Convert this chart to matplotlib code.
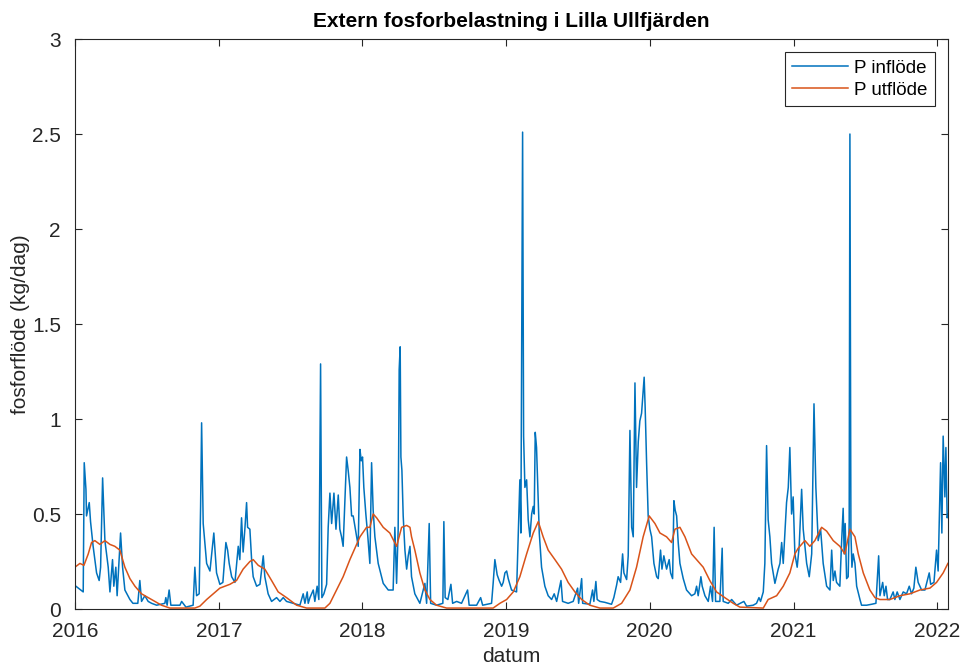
import numpy as np
import pandas as pd
import matplotlib
matplotlib.use("Agg")
import matplotlib.pyplot as plt
import matplotlib.dates as mdates

plt.rcParams['font.family'] = ['Liberation Sans', 'DejaVu Sans']

# tid i år räknat från 2016-01-01
ar_in = [0.007, 0.058, 0.065, 0.077, 0.081, 0.100, 0.109, 0.127, 0.151, 0.169, 0.179, 0.193, 0.209, 0.232, 0.244,
         0.262, 0.271, 0.285, 0.294, 0.308, 0.318, 0.332, 0.348, 0.383, 0.404, 0.438, 0.452, 0.464, 0.487, 0.510,
         0.534, 0.569, 0.626, 0.633, 0.642, 0.656, 0.668, 0.731, 0.743, 0.773, 0.823, 0.835, 0.847, 0.865, 0.875,
         0.882, 0.893, 0.917, 0.940, 0.967, 0.986, 1.009, 1.030, 1.051, 1.063, 1.074, 1.091, 1.114, 1.137, 1.148,
         1.160, 1.171, 1.183, 1.195, 1.202, 1.218, 1.230, 1.241, 1.265, 1.288, 1.311, 1.322, 1.345, 1.369, 1.404,
         1.427, 1.450, 1.473, 1.519, 1.566, 1.589, 1.601, 1.617, 1.624, 1.636, 1.659, 1.670, 1.686, 1.698, 1.710,
         1.719, 1.733, 1.752, 1.763, 1.775, 1.787, 1.803, 1.817, 1.833, 1.844, 1.856, 1.867, 1.891, 1.902, 1.914,
         1.926, 1.937, 1.961, 1.972, 1.984, 1.993, 2.002, 2.011, 2.025, 2.039, 2.053, 2.065, 2.076, 2.088, 2.111,
         2.146, 2.181, 2.215, 2.227, 2.239, 2.250, 2.257, 2.264, 2.269, 2.276, 2.285, 2.297, 2.309, 2.320, 2.332,
         2.343, 2.366, 2.401, 2.436, 2.448, 2.466, 2.476, 2.517, 2.561, 2.568, 2.577, 2.596, 2.617, 2.629, 2.657,
         2.691, 2.733, 2.744, 2.796, 2.824, 2.838, 2.900, 2.911, 2.923, 2.939, 2.953, 2.970, 2.981, 2.993, 3.005,
         3.016, 3.039, 3.074, 3.097, 3.104, 3.111, 3.116, 3.123, 3.132, 3.144, 3.155, 3.167, 3.179, 3.190, 3.197,
         3.204, 3.213, 3.222, 3.232, 3.248, 3.271, 3.294, 3.318, 3.336, 3.353, 3.383, 3.394, 3.433, 3.468, 3.499,
         3.506, 3.527, 3.534, 3.584, 3.603, 3.612, 3.626, 3.635, 3.654, 3.689, 3.735, 3.751, 3.770, 3.781, 3.798,
         3.812, 3.821, 3.840, 3.851, 3.863, 3.875, 3.886, 3.898, 3.909, 3.921, 3.932, 3.944, 3.955, 3.962, 3.969,
         3.979, 3.990, 4.002, 4.014, 4.030, 4.049, 4.060, 4.076, 4.086, 4.099, 4.118, 4.136, 4.146, 4.160, 4.169,
         4.178, 4.188, 4.199, 4.211, 4.234, 4.257, 4.292, 4.315, 4.327, 4.338, 4.357, 4.366, 4.385, 4.408, 4.424,
         4.438, 4.449, 4.459, 4.489, 4.505, 4.512, 4.547, 4.571, 4.605, 4.656, 4.675, 4.721, 4.744, 4.761, 4.772,
         4.791, 4.802, 4.814, 4.825, 4.837, 4.849, 4.872, 4.895, 4.907, 4.919, 4.930, 4.953, 4.965, 4.976, 4.988,
         4.999, 5.011, 5.027, 5.041, 5.058, 5.069, 5.093, 5.111, 5.128, 5.144, 5.157, 5.173, 5.190, 5.208, 5.232,
         5.255, 5.267, 5.278, 5.290, 5.301, 5.324, 5.336, 5.347, 5.354, 5.361, 5.371, 5.382, 5.389, 5.394, 5.401,
         5.408, 5.417, 5.429, 5.441, 5.464, 5.475, 5.510, 5.545, 5.575, 5.594, 5.603, 5.622, 5.633, 5.645, 5.656,
         5.672, 5.695, 5.707, 5.723, 5.742, 5.765, 5.788, 5.807, 5.823, 5.839, 5.853, 5.869, 5.893, 5.916, 5.946,
         5.956, 5.979, 5.997, 6.008, 6.025, 6.034, 6.043, 6.055, 6.062, 6.071, 6.076]
p_in = [0.12, 0.09, 0.77, 0.63, 0.49, 0.56, 0.46, 0.33, 0.19, 0.15, 0.22, 0.69, 0.36, 0.22, 0.09,
        0.26, 0.12, 0.22, 0.07, 0.26, 0.40, 0.22, 0.10, 0.05, 0.03, 0.03, 0.15, 0.04, 0.07, 0.04,
        0.03, 0.02, 0.03, 0.06, 0.02, 0.10, 0.02, 0.02, 0.04, 0.01, 0.02, 0.22, 0.07, 0.08, 0.54,
        0.98, 0.45, 0.24, 0.20, 0.40, 0.19, 0.13, 0.14, 0.35, 0.31, 0.24, 0.17, 0.14, 0.33, 0.26,
        0.48, 0.30, 0.42, 0.56, 0.43, 0.42, 0.26, 0.17, 0.12, 0.13, 0.28, 0.17, 0.08, 0.04, 0.06,
        0.04, 0.06, 0.04, 0.03, 0.02, 0.08, 0.03, 0.09, 0.03, 0.06, 0.10, 0.04, 0.12, 0.05, 1.29,
        0.06, 0.08, 0.13, 0.43, 0.61, 0.45, 0.61, 0.42, 0.60, 0.42, 0.38, 0.33, 0.80, 0.73, 0.64,
        0.49, 0.49, 0.38, 0.33, 0.84, 0.78, 0.80, 0.64, 0.50, 0.38, 0.24, 0.77, 0.52, 0.38, 0.24,
        0.135, 0.10, 0.10, 0.43, 0.135, 0.42, 1.26, 1.38, 0.80, 0.73, 0.49, 0.31, 0.21, 0.28, 0.33,
        0.17, 0.08, 0.03, 0.135, 0.03, 0.45, 0.03, 0.02, 0.03, 0.46, 0.06, 0.05, 0.13, 0.03, 0.04,
        0.03, 0.10, 0.02, 0.02, 0.06, 0.02, 0.03, 0.135, 0.26, 0.18, 0.15, 0.12, 0.14, 0.19, 0.20,
        0.16, 0.10, 0.09, 0.68, 0.40, 1.70, 2.51, 0.91, 0.64, 0.68, 0.47, 0.38, 0.50, 0.54, 0.50,
        0.93, 0.85, 0.64, 0.40, 0.22, 0.12, 0.07, 0.05, 0.08, 0.04, 0.15, 0.04, 0.03, 0.04, 0.11,
        0.03, 0.16, 0.03, 0.025, 0.10, 0.04, 0.145, 0.05, 0.04, 0.035, 0.025, 0.06, 0.125, 0.17, 0.14,
        0.29, 0.19, 0.155, 0.28, 0.94, 0.43, 0.38, 1.19, 0.64, 0.88, 0.99, 1.03, 1.15, 1.22, 1.06,
        0.77, 0.49, 0.42, 0.38, 0.24, 0.17, 0.16, 0.31, 0.21, 0.28, 0.21, 0.26, 0.19, 0.16, 0.57,
        0.52, 0.49, 0.35, 0.24, 0.16, 0.10, 0.07, 0.08, 0.12, 0.07, 0.17, 0.12, 0.07, 0.04, 0.12,
        0.04, 0.43, 0.04, 0.04, 0.32, 0.04, 0.03, 0.05, 0.02, 0.04, 0.015, 0.02, 0.03, 0.06, 0.04,
        0.09, 0.24, 0.86, 0.47, 0.38, 0.24, 0.135, 0.21, 0.24, 0.35, 0.24, 0.56, 0.64, 0.85, 0.50,
        0.59, 0.29, 0.22, 0.33, 0.63, 0.42, 0.24, 0.17, 0.29, 1.08, 0.64, 0.36, 0.42, 0.24, 0.12,
        0.10, 0.31, 0.15, 0.20, 0.14, 0.12, 0.35, 0.53, 0.29, 0.45, 0.16, 0.17, 0.46, 2.50, 0.40,
        0.22, 0.29, 0.24, 0.12, 0.05, 0.02, 0.02, 0.025, 0.03, 0.28, 0.07, 0.14, 0.07, 0.12, 0.05,
        0.05, 0.09, 0.05, 0.09, 0.05, 0.09, 0.08, 0.12, 0.08, 0.11, 0.22, 0.14, 0.10, 0.10, 0.19,
        0.13, 0.14, 0.31, 0.20, 0.77, 0.40, 0.91, 0.59, 0.85, 0.48, 0.50]

ar_ut = [0.000, 0.035, 0.063, 0.093, 0.116, 0.139, 0.174, 0.209, 0.244, 0.278, 0.313, 0.348, 0.383, 0.418, 0.464,
         0.510, 0.557, 0.603, 0.661, 0.777, 0.835, 0.870, 0.917, 0.963, 1.009, 1.079, 1.125, 1.171, 1.218, 1.241,
         1.276, 1.322, 1.369, 1.415, 1.473, 1.543, 1.613, 1.740, 1.775, 1.821, 1.867, 1.914, 1.961, 1.984, 2.030,
         2.053, 2.076, 2.100, 2.146, 2.192, 2.239, 2.274, 2.309, 2.332, 2.343, 2.366, 2.401, 2.436, 2.471, 2.517,
         2.587, 2.911, 2.958, 3.005, 3.051, 3.097, 3.144, 3.190, 3.225, 3.259, 3.294, 3.341, 3.387, 3.433, 3.480,
         3.527, 3.584, 3.654, 3.747, 3.805, 3.863, 3.909, 3.955, 3.997, 4.037, 4.072, 4.118, 4.153, 4.176, 4.211,
         4.246, 4.292, 4.338, 4.373, 4.419, 4.466, 4.523, 4.582, 4.628, 4.791, 4.825, 4.884, 4.930, 4.976, 5.011,
         5.034, 5.081, 5.115, 5.150, 5.197, 5.232, 5.278, 5.324, 5.359, 5.394, 5.429, 5.452, 5.487, 5.533, 5.568,
         5.603, 5.672, 5.742, 5.811, 5.881, 5.951, 5.997, 6.043, 6.076]
p_ut = [0.22, 0.24, 0.23, 0.29, 0.35, 0.36, 0.34, 0.36, 0.34, 0.33, 0.31, 0.22, 0.16, 0.12, 0.08,
        0.06, 0.04, 0.02, 0.005, 0.005, 0.005, 0.015, 0.05, 0.08, 0.11, 0.13, 0.15, 0.21, 0.25, 0.26,
        0.23, 0.21, 0.15, 0.09, 0.06, 0.02, 0.005, 0.005, 0.03, 0.10, 0.17, 0.26, 0.34, 0.38, 0.43,
        0.43, 0.50, 0.48, 0.43, 0.40, 0.33, 0.43, 0.44, 0.43, 0.38, 0.31, 0.19, 0.10, 0.05, 0.02,
        0.005, 0.005, 0.03, 0.05, 0.09, 0.17, 0.29, 0.40, 0.46, 0.38, 0.31, 0.26, 0.21, 0.14, 0.09,
        0.05, 0.02, 0.005, 0.005, 0.03, 0.10, 0.22, 0.38, 0.49, 0.45, 0.40, 0.38, 0.35, 0.42, 0.43,
        0.38, 0.29, 0.25, 0.22, 0.15, 0.09, 0.06, 0.03, 0.01, 0.005, 0.05, 0.07, 0.12, 0.19, 0.29,
        0.32, 0.36, 0.33, 0.36, 0.43, 0.41, 0.36, 0.33, 0.29, 0.42, 0.38, 0.29, 0.19, 0.10, 0.06,
        0.05, 0.05, 0.07, 0.08, 0.10, 0.11, 0.14, 0.19, 0.24]

start = pd.Timestamp('2016-01-01')
def till_datum(ar):
    return start + pd.to_timedelta(np.array(ar) * 365.25, unit='D')

d_in = till_datum(ar_in)
d_ut = till_datum(ar_ut)

fig = plt.figure(figsize=(9.6, 6.68), dpi=100)
ax = fig.add_axes([0.078, 0.0883, 0.9094, 0.8533])

ax.plot(d_in, p_in, color='#0072BD', lw=1.1, label='P inflöde')
ax.plot(d_ut, p_ut, color='#D95319', lw=1.1, label='P utflöde')

ax.set_xlim(start, till_datum([6.076])[0])
ax.set_ylim(0, 3)
ax.set_yticks([0, 0.5, 1, 1.5, 2, 2.5, 3])
ax.set_yticklabels(['0', '0.5', '1', '1.5', '2', '2.5', '3'])
ax.xaxis.set_major_locator(mdates.YearLocator())
ax.xaxis.set_major_formatter(mdates.DateFormatter('%Y'))

grey = '#262626'
for s in ax.spines.values():
    s.set_color(grey)
    s.set_linewidth(0.8)
ax.tick_params(direction='in', length=5, width=0.8, colors=grey, labelsize=15,
               top=True, right=True)
ax.tick_params(axis='x', pad=9)
ax.tick_params(axis='y', pad=10)

ax.set_title('Extern fosforbelastning i Lilla Ullfjärden', fontsize=15, fontweight='bold', pad=9)
ax.set_xlabel('datum', fontsize=15, color=grey, labelpad=5)
ax.set_ylabel('fosforflöde (kg/dag)', fontsize=15, color=grey, labelpad=1)

leg = ax.legend(loc='upper right', fontsize=13.5, fancybox=False, edgecolor=grey,
                framealpha=1, borderaxespad=0.7, handlelength=3.0, handletextpad=0.3,
                labelspacing=0.25, borderpad=0.4)
leg.get_frame().set_linewidth(0.8)

fig.savefig('out.png', dpi=100)
